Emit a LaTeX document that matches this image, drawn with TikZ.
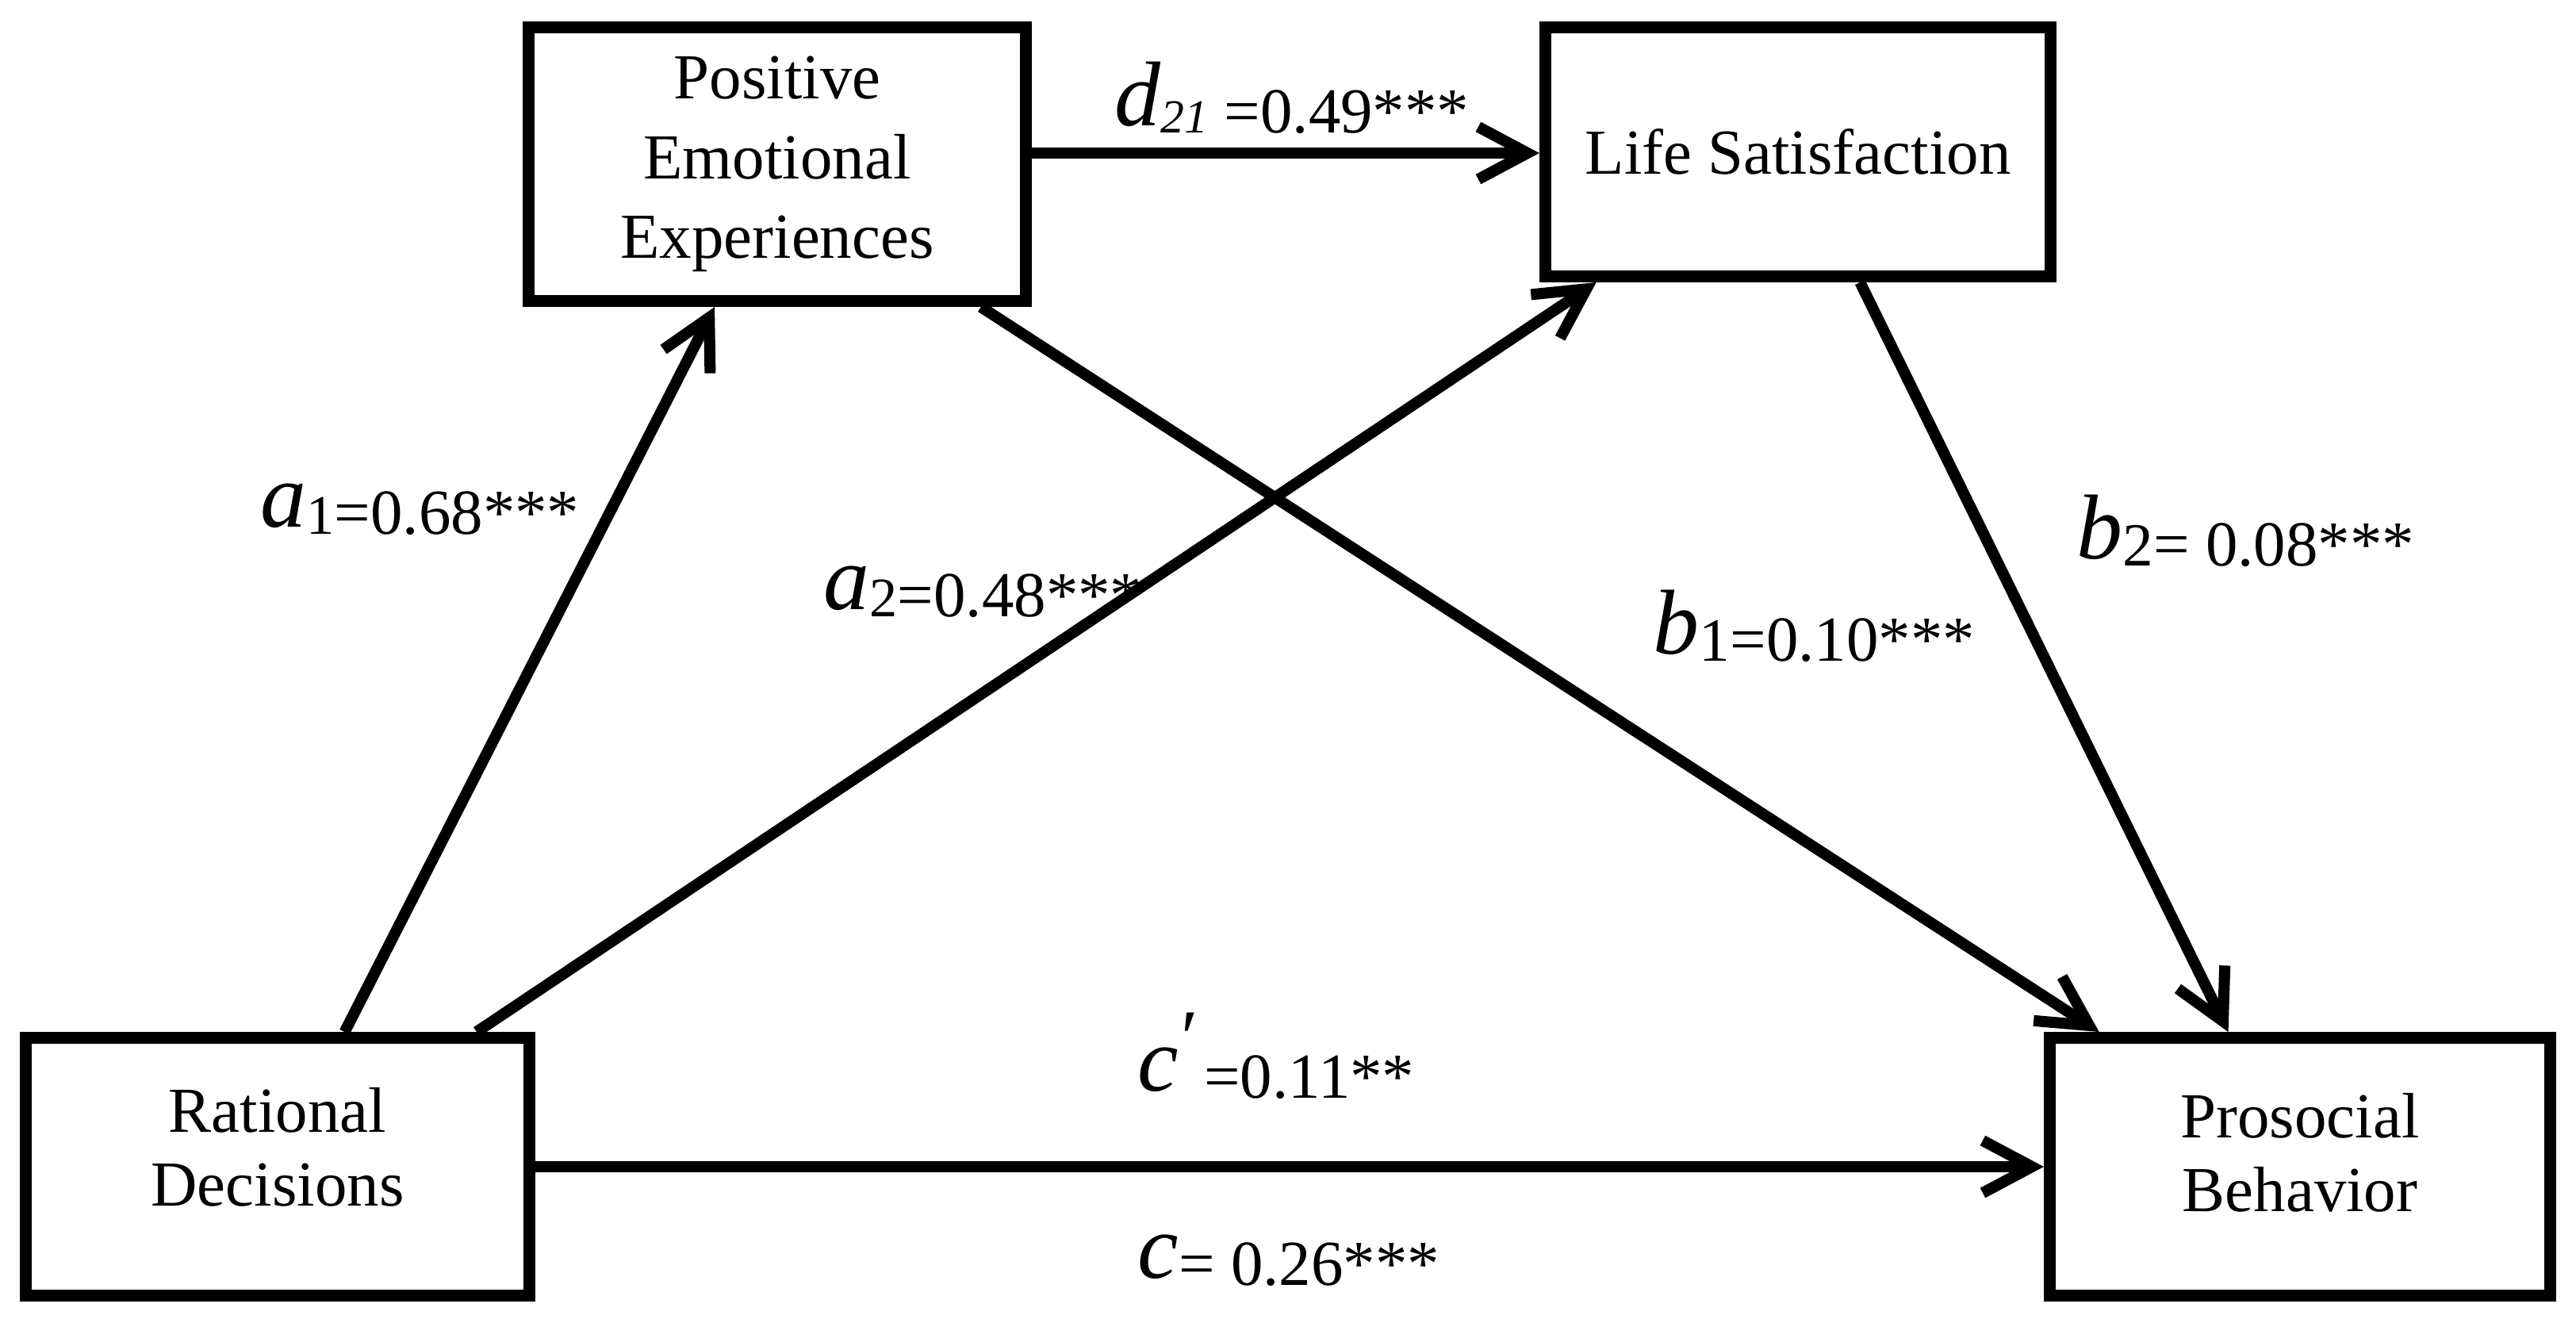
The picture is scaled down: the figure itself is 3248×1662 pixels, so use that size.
\documentclass[tikz,border=0pt]{standalone}
\usepackage{fontspec}
\setmainfont{Liberation Serif}
\usetikzlibrary{arrows.meta,calc}
\tikzset{
  box/.style={draw, line width=4.2pt, inner sep=0pt, align=center, font=\fontsize{23}{28.5}\selectfont},
  twoline/.style={font=\fontsize{23}{26.5}\selectfont},
  conn/.style={line width=4pt, -{Straight Barb[length=0.62cm,width=0.66cm]}},
  lbl/.style={anchor=base west, inner sep=0pt, font=\fontsize{23}{23}\selectfont},
}
\newcommand\vlet[1]{\raisebox{2.5pt}{\fontsize{33}{33}\selectfont\itshape #1}}
\newcommand\vsub[2]{{\fontsize{#1}{#1}\selectfont #2}}
\newcommand\liftline[2]{\raisebox{#1}[\height][\depth]{#2}}
\begin{document}
\begin{tikzpicture}[x=0.01cm, y=-0.01cm]
\useasboundingbox (0,0) rectangle (3248,1662);
\node[box, minimum width=6.27cm, minimum height=3.45cm] (pee) at (980,207) {Positive\\Emotional\\Experiences};
\node[box, minimum width=6.37cm, minimum height=3.14cm] (ls) at (2267,191.5) {Life Satisfaction};
\node[box, twoline, minimum width=6.35cm, minimum height=3.25cm] (rd) at (350,1471) {\liftline{7pt}{Rational}\\\liftline{7pt}{Decisions}};
\node[box, twoline, minimum width=6.31cm, minimum height=3.25cm] (pb) at (2900,1471) {\liftline{5pt}{Prosocial}\\\liftline{5pt}{Behavior}};

\draw[conn] ($(pee.north east)!0.461!(pee.south east)$) coordinate (ds) -- (ds -| ls.west);
\draw[conn] (rd.east) -- (pb.west);
\draw[conn] ($(rd.north west)!0.63!(rd.north east)$) -- ($(pee.south west)!0.377!(pee.south east)$);
\draw[conn] ($(rd.north west)!0.886!(rd.north east)$) -- ($(ls.south west)!0.11!(ls.south east)$);
\draw[conn] ($(pee.south west)!0.90!(pee.south east)$) -- ($(pb.north west)!0.108!(pb.north east)$);
\draw[conn] ($(ls.south west)!0.62!(ls.south east)$) -- ($(pb.north west)!0.36!(pb.north east)$);

\node[lbl] (ld) at (1405,167) {\vlet{d}\vsub{17}{\itshape 21} =0.49***};
\node[lbl] (la1) at (328,673) {\vlet{a}\vsub{20}{1}=0.68***};
\node[lbl] (la2) at (1038,777) {\vlet{a}\vsub{20}{2}=0.48***};
\node[lbl] (lb1) at (2084,833) {\vlet{b}\vsub{22}{1}=0.10***};
\node[lbl] (lb2) at (2618,713) {\vlet{b}\vsub{22}{2}= 0.08***};
\node[lbl] (lcp) at (1434,1384) {\vlet{c}\hspace{1pt}\raisebox{12pt}{\fontsize{28}{28}\selectfont ′}\hspace{2pt}=0.11**};
\node[lbl] (lc) at (1434,1620) {\vlet{c}= 0.26***};
\end{tikzpicture}
\end{document}
